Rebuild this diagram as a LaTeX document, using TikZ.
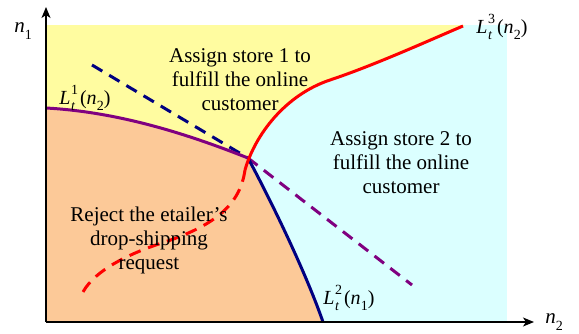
\documentclass[tikz,border=0pt]{standalone}
\usepackage{fontspec}
\setmainfont{Liberation Serif}
\usetikzlibrary{arrows.meta}

\definecolor{regA}{RGB}{255,252,160}
\definecolor{regB}{RGB}{219,255,255}
\definecolor{regC}{RGB}{252,201,152}
\definecolor{lpurple}{RGB}{128,0,128}
\definecolor{lnavy}{RGB}{0,0,128}

% threshold label L_t^{k}(n_j) in text fonts
\newcommand\Lfun[3]{\textit{L}\kern0.5pt\rlap{\raisebox{-0.32em}{\fontsize{14}{14}\selectfont\textit{#1}}}\raisebox{0.5em}{\fontsize{14}{14}\selectfont #2}\kern2pt(\textit{n}\kern0.3pt\raisebox{-0.3em}{\fontsize{14}{14}\selectfont #3})}

\tikzset{
  curve/.style={line width=3pt},
  dashcurve/.style={line width=3pt, dash pattern=on 12pt off 8pt},
  axis/.style={line width=1.4pt, -{Stealth[length=11pt,width=9pt,inset=3pt]}},
  region/.style={font=\fontsize{21}{24}\selectfont, align=center, inner sep=0pt},
  flabel/.style={font=\fontsize{20}{22}\selectfont, inner sep=0pt},
}

\begin{document}
\begin{tikzpicture}[x=1pt,y=-1pt]
\useasboundingbox (0,0) rectangle (579,333);

% key points of the threshold curves
\coordinate (O) at (46,322);
\coordinate (ytip) at (46,7);
\coordinate (xtip) at (534,322);
\coordinate (P) at (248,158);
\coordinate (A1) at (46,108);
\coordinate (B2) at (323,322);
\coordinate (R0) at (245,170);
\coordinate (Rm) at (330,80);
\coordinate (R3) at (463,26);
\coordinate (Dm) at (165,242);
\coordinate (D0) at (83,292);
\coordinate (Q1) at (92,65);
\coordinate (Q2) at (412,285);

% decision regions
\fill[regB] (46,25) rectangle (507,322);
\fill[regA] (46,25) -- (465,25) -- (R3)
  .. controls (430,40) and (375,65) .. (Rm)
  .. controls (285,95) and (255,135) .. (R0)
  -- (46,170) -- cycle;
\fill[regC] (A1) .. controls (120,112) and (190,135) .. (P)
  .. controls (268,195) and (305,270) .. (B2) -- (O) -- cycle;

% dashed continuations
\draw[dashcurve, lnavy] (Q1) -- (P);
\draw[dashcurve, lpurple] (P) -- (Q2);
\draw[dashcurve, red] (R0) .. controls (240,205) and (215,225) .. (Dm)
  .. controls (130,253) and (95,270) .. (D0);

% threshold curves
\draw[curve, lpurple] (A1) .. controls (120,112) and (190,135) .. (P);
\draw[curve, lnavy] (P) .. controls (268,195) and (305,270) .. (B2);
\draw[curve, red] (R0) .. controls (255,135) and (285,95) .. (Rm)
  .. controls (375,65) and (430,40) .. (R3);

% axes
\draw[axis] (O) -- (ytip);
\draw[axis] (O) -- (xtip);
\node[font=\fontsize{21}{21}\selectfont, inner sep=0pt] (n1) at (23,31) {\textit{n}\raisebox{-0.3em}{\fontsize{14}{14}\selectfont 1}};
\node[font=\fontsize{21}{21}\selectfont, inner sep=0pt] (n2) at (554,322) {\textit{n}\raisebox{-0.3em}{\fontsize{14}{14}\selectfont 2}};

% curve labels
\node[flabel] (l1) at (85,98) {\Lfun{t}{1}{2}};
\node[flabel] (l3) at (502,27) {\Lfun{t}{3}{2}};
\node[flabel] (l2) at (349,298) {\Lfun{t}{2}{1}};

% region texts
\node[region] (s1) at (240,80) {Assign store 1 to\\fulfill the online\\customer};
\node[region] (s2) at (401,163) {Assign store 2 to\\fulfill the online\\customer};
\node[region] (rj) at (149,240) {Reject the etailer’s\\drop-shipping\\request};
\end{tikzpicture}
\end{document}
